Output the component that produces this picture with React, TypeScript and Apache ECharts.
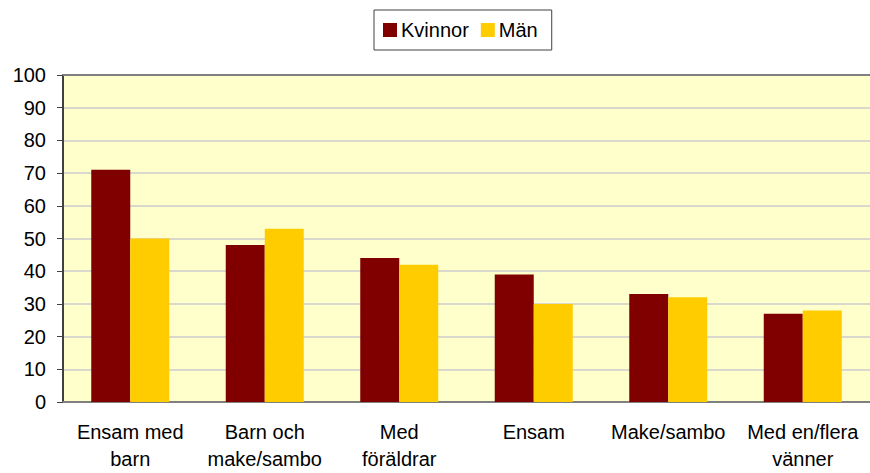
import React, { useEffect, useRef } from "react";
import * as echarts from "echarts";

const categories = [
  "Ensam med\nbarn",
  "Barn och\nmake/sambo",
  "Med\nföräldrar",
  "Ensam",
  "Make/sambo",
  "Med en/flera\nvänner",
];
const kvinnor = [71, 48, 44, 39, 33, 27];
const man = [50, 53, 42, 30, 32, 28];
const yTicks = { min: 0, max: 100, interval: 10 };

const FONT = "'Liberation Sans', Arial, sans-serif";

export default function App() {
  const ref = useRef<HTMLDivElement>(null);
  useEffect(() => {
    document.body.style.margin = "0";
    const chart = echarts.init(ref.current!, undefined, { renderer: "svg" });
    chart.setOption({
      animation: false,
      textStyle: { fontFamily: FONT },
      legend: {
        top: 10,
        left: 374,
        itemWidth: 14,
        itemHeight: 14,
        itemGap: 12,
        padding: [10, 14, 10, 9],
        borderColor: "#404040",
        borderWidth: 1,
        backgroundColor: "#fff",
        textStyle: { fontSize: 20, color: "#000", fontFamily: FONT, padding: [0, 0, 0, -1] },
        icon: "rect",
        data: ["Kvinnor", "Män"],
      },
      grid: {
        left: 63,
        right: -2,
        top: 75,
        bottom: 71,
        show: true,
        backgroundColor: "#ffffcc",
        borderWidth: 0,
      },
      xAxis: [
        {
          type: "category",
          data: categories,
          axisLine: { lineStyle: { color: "#808080", width: 2 } },
          axisTick: { show: false },
          axisLabel: {
            color: "#000",
            fontSize: 20,
            lineHeight: 27,
            margin: 16,
            interval: 0,
            fontFamily: FONT,
          },
        },
        {
          type: "category",
          position: "top",
          data: categories,
          axisLine: { show: true, lineStyle: { color: "#808080", width: 2 } },
          axisTick: { show: false },
          axisLabel: { show: false },
        },
      ],
      yAxis: {
        type: "value",
        min: yTicks.min,
        max: yTicks.max,
        interval: yTicks.interval,
        axisLine: { show: true, lineStyle: { color: "#404040", width: 2 } },
        axisTick: { show: true, length: 6, lineStyle: { color: "#404040" } },
        axisLabel: { color: "#000", fontSize: 20, margin: 17, fontFamily: FONT },
        splitLine: { lineStyle: { color: "#d8d8cc", width: 2 } },
      },
      series: [
        {
          name: "Kvinnor",
          type: "bar",
          data: kvinnor,
          itemStyle: { color: "#800000" },
          barGap: "0%",
          barCategoryGap: "42%",
        },
        {
          name: "Män",
          type: "bar",
          data: man,
          itemStyle: { color: "#ffcc00" },
          barGap: "0%",
          barCategoryGap: "42%",
        },
      ],
    });
    return () => chart.dispose();
  }, []);
  return (
    <div
      ref={ref}
      style={{ position: "absolute", left: 0, top: 0, width: 870, height: 473, background: "#fff" }}
    />
  );
}
